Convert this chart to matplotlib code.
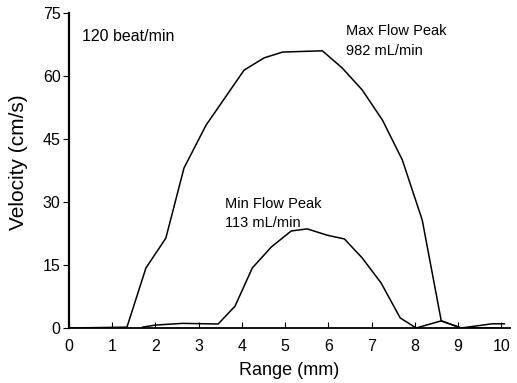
import matplotlib.pyplot as plt

# values
max_range = [0.0, 1.34, 1.78, 2.24, 2.66, 3.17, 4.05, 4.51, 4.94, 5.86, 6.32, 6.78, 7.25, 7.71, 8.17, 8.61, 9.07, 10.0]
max_velocity = [0.0, 0.2, 14.3, 21.4, 38.1, 48.3, 61.4, 64.3, 65.7, 66.0, 61.9, 56.7, 49.5, 40.0, 25.7, 1.7, 0.0, 0.0]

min_range = [1.7, 2.0, 2.62, 3.45, 3.84, 4.24, 4.68, 5.14, 5.51, 5.97, 6.37, 6.78, 7.22, 7.66, 8.03, 8.61, 9.07, 9.79, 10.07]
min_velocity = [0.2, 0.7, 1.1, 0.95, 5.2, 14.3, 19.3, 23.1, 23.6, 22.1, 21.2, 16.7, 10.7, 2.4, 0.0, 1.7, 0.0, 1.0, 1.0]

x_ticks = list(range(0, 11))
y_ticks = [0, 15, 30, 45, 60, 75]


def main():
    plt.rcParams["font.family"] = "Liberation Sans"
    fig = plt.figure(figsize=(5.17, 3.83), dpi=100)
    ax = fig.add_axes([69 / 517, 55 / 383, 441 / 517, 315 / 383])

    ax.plot(max_range, max_velocity, color="black", lw=1.1)
    ax.plot(min_range, min_velocity, color="black", lw=1.1)

    ax.set_xlim(0, 10.2)
    ax.set_ylim(0, 75)
    ax.set_xticks(x_ticks)
    ax.set_yticks(y_ticks)
    ax.tick_params(axis="x", direction="in", length=4, pad=8, labelsize=11.5)
    ax.tick_params(axis="y", direction="out", length=4, pad=2, labelsize=11.5)

    for side in ["top", "right"]:
        ax.spines[side].set_visible(False)
    ax.spines["left"].set_linewidth(1.6)
    ax.spines["bottom"].set_linewidth(1.3)

    ax.set_xlabel("Range (mm)", fontsize=13, labelpad=6)
    ax.set_ylabel("Velocity (cm/s)", fontsize=15)
    ax.yaxis.set_label_coords(-0.092, 0.527)

    ax.text(0.3, 69.5, "120 beat/min", fontsize=11.5, va="center")
    ax.text(6.4, 64.3, "Max Flow Peak\n982 mL/min", fontsize=10.5,
            va="bottom", linespacing=1.5)
    ax.text(3.6, 23.3, "Min Flow Peak\n113 mL/min", fontsize=10.5,
            va="bottom", linespacing=1.5)

    fig.savefig("out.png", dpi=100)


if __name__ == "__main__":
    main()
